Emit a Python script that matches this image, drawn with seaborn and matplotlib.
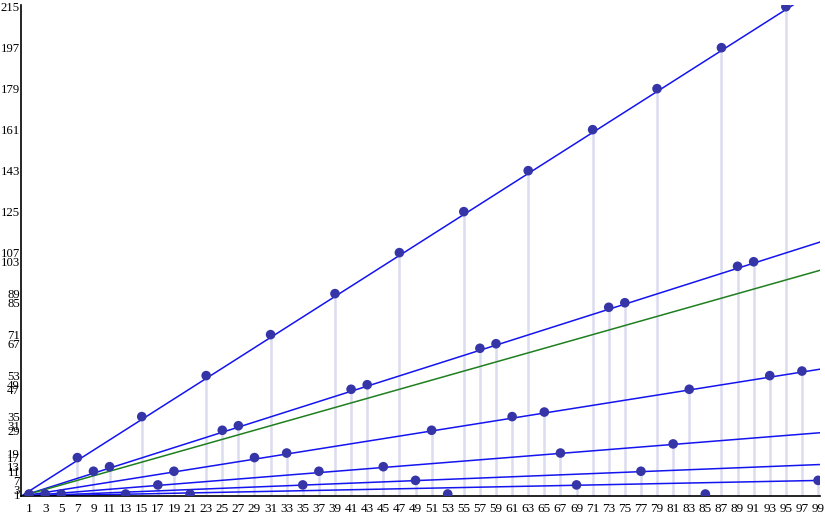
import matplotlib
matplotlib.use("Agg")
import matplotlib.pyplot as plt
import seaborn as sns
import pandas as pd

# odd starting values and the value reached after two odd steps
n_values = list(range(1, 100, 2))
f_values = [1, 1, 1, 17, 11, 13, 1, 35, 5, 11,
            1, 53, 29, 31, 17, 71, 19, 5, 11, 89,
            47, 49, 13, 107, 7, 29, 1, 125, 65, 67,
            35, 143, 37, 19, 5, 161, 83, 85, 11, 179,
            23, 47, 1, 197, 101, 103, 53, 215, 55, 7]

# reference lines y = slope * x
blue_slopes = [9/4, 9/8, 9/16, 9/32, 9/64, 9/128]
green_slope = 1

y_ticks = [1, 3, 7, 11, 13, 17, 19, 29, 31, 35, 47, 49, 53, 67, 71,
           85, 89, 103, 107, 125, 143, 161, 179, 197, 215]

x_max = 99.24
y_max = 215.75

df = pd.DataFrame({'n': n_values, 'f': f_values})

sns.set_style("white")
plt.rcParams['font.family'] = ['Liberation Serif', 'DejaVu Serif']

fig = plt.figure(figsize=(8.25, 5.16), dpi=100)
ax = fig.add_axes([21/825, 1 - 496.3/516, 799/825, 491.3/516])

# drop lines from each point down to the axis
ax.vlines(df['n'], 0, df['f'], color='#dcdcf0', linewidth=1.8, zorder=1)

# lines through the origin
for s in blue_slopes:
    sns.lineplot(x=[0, x_max], y=[0, s * x_max], color='#1414f0',
                 linewidth=1.1, ax=ax, zorder=2)
sns.lineplot(x=[0, x_max], y=[0, green_slope * x_max], color='#1f7f1f',
             linewidth=1.1, ax=ax, zorder=2)

# points
sns.scatterplot(data=df, x='n', y='f', color='#3535a8', s=48,
                edgecolor='none', ax=ax, zorder=3)

ax.set_xlim(0, x_max)
ax.set_ylim(0, y_max)
ax.set_xlabel('')
ax.set_ylabel('')

ax.set_xticks(n_values)
ax.set_xticklabels([str(v) for v in n_values], fontsize=9.5)
ax.set_yticks(y_ticks)
ax.set_yticklabels([str(v) for v in y_ticks], fontsize=9.2)

ax.tick_params(axis='x', direction='out', length=4, width=1, pad=1, colors='black')
ax.tick_params(axis='y', direction='in', length=5, width=1, pad=0.8, colors='black')

sns.despine(ax=ax)
for axis in ['bottom', 'left']:
    ax.spines[axis].set_linewidth(1.2)
    ax.spines[axis].set_color('black')

fig.savefig('out.png', dpi=100)
